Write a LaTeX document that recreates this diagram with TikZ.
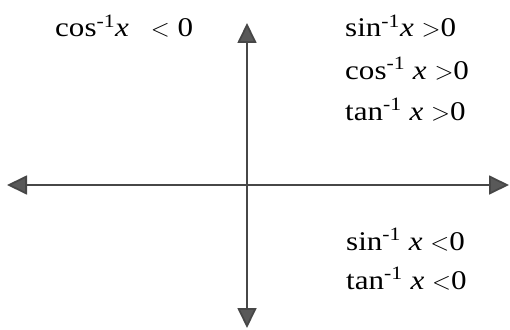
\documentclass[tikz,border=0pt]{standalone}
\usepackage{fontspec}
\setmainfont{Liberation Serif}[FakeStretch=1.15]
\usetikzlibrary{arrows.meta}
\newcommand{\inv}[1]{#1\textsuperscript{-1}}
\begin{document}
\begin{tikzpicture}[x=1pt,y=-1pt,
  axis/.style={draw=black!72,line width=1.8pt,-{Triangle[length=20pt,width=19pt,fill=black!65]}},
  lbl/.style={anchor=base west,inner sep=0pt,font=\fontsize{27}{31}\selectfont}]
\useasboundingbox (0,0) rectangle (510,329);
\coordinate (o) at (247,185);
\coordinate (l) at (7,185);
\coordinate (r) at (509,185);
\coordinate (t) at (247,23);
\coordinate (b) at (247,328);
\draw[axis] (o) -- (l);
\draw[axis] (o) -- (r);
\draw[axis] (o) -- (t);
\draw[axis] (o) -- (b);
\node[lbl] (q2) at (55,37) {\inv{cos}\textit{x}\hspace{22pt}$<$ 0};
\node[lbl] (q1a) at (345,37) {\inv{sin}\textit{x} $>$0};
\node[lbl] (q1b) at (345,79) {\inv{cos} \textit{x} $>$0};
\node[lbl] (q1c) at (345,120) {\inv{tan} \textit{x} $>$0};
\node[lbl] (q4a) at (346,250) {\inv{sin} \textit{x} $<$0};
\node[lbl] (q4b) at (346,289) {\inv{tan} \textit{x} $<$0};
\end{tikzpicture}
\end{document}
